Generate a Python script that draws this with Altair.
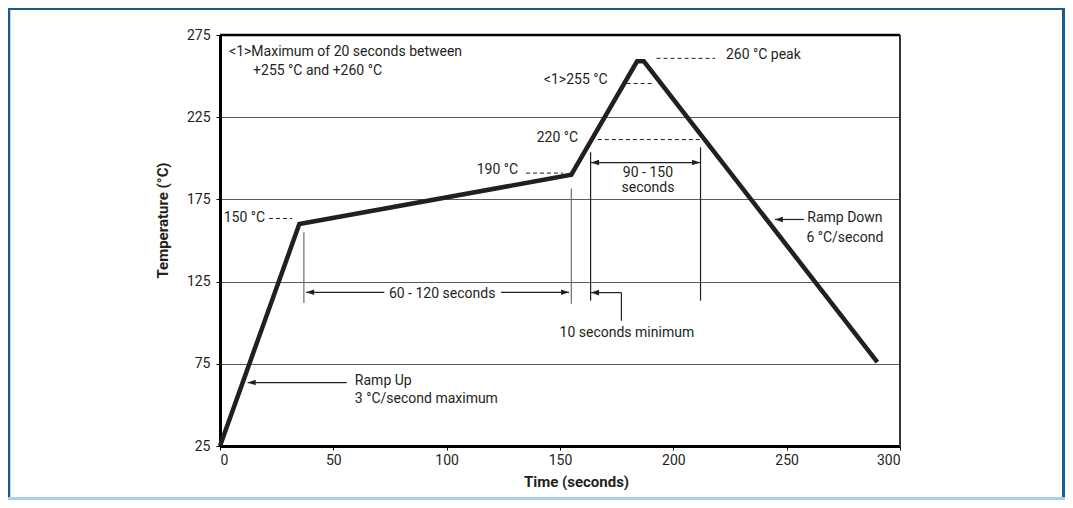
import altair as alt
import pandas as pd

# reflow profile
time_s = [0, 35, 155, 184, 187, 290]
temp_c = [25, 160, 190, 259, 259, 76]

x_ticks = [0, 50, 100, 150, 200, 250, 300]
y_ticks = [25, 75, 125, 175, 225, 275]

# dashed level markers
dash_x1 = [21.6, 135, 166.7, 179.4, 192.6]
dash_x2 = [31.8, 151.3, 211.7, 191.8, 218.4]
dash_y = [163.4, 191, 211.4, 245.5, 260.8]

# thin vertical markers
vline_x = [37, 155, 163.5, 212, 177.1]
vline_y1 = [112, 111.6, 113.4, 113.4, 101.2]
vline_y2 = [155, 181.7, 203.7, 206.7, 118.3]
vline_c = ["#6d6e71", "#6d6e71", "#231f20", "#231f20", "#231f20"]

# arrow shafts
arrow_x1 = [38, 124, 163.7, 163.7, 12.2, 244.8]
arrow_x2 = [72.5, 154, 211.8, 177.1, 55.9, 257.6]
arrow_y = [118.5, 118.5, 197.4, 118.3, 63.6, 162.8]

# arrow heads
head_x = [38, 154, 163.7, 211.8, 163.7, 12.2, 244.8]
head_y = [118.5, 118.5, 197.4, 197.4, 118.3, 63.6, 162.8]
head_ang = [0, 180, 0, 180, 0, 0, 0]

# labels
right_txt = ["150 °C", "190 °C", "220 °C", "<1>255 °C"]
right_x = [19.9, 131.5, 158, 171]
right_y = [163.4, 192.6, 212.2, 247.6]

left_txt = ["260 °C peak", "Ramp Up", "3 °C/second maximum",
            "<1>Maximum of 20 seconds between", "+255 °C and +260 °C"]
left_x = [223.2, 59.5, 59.5, 4, 14.6]
left_y = [262.8, 64.6, 53.7, 264.6, 253]

center_txt = ["90 - 150", "seconds", "60 - 120 seconds", "10 seconds minimum",
              "Ramp Down", "6 °C/second"]
center_x = [188.8, 188.8, 98, 179.5, 275.7, 275.7]
center_y = [191.3, 181.9, 117.7, 93.9, 163.4, 151.8]

FONT = "Roboto"
INK = "#231f20"

xs = alt.Scale(domain=[0, 300], nice=False)
ys = alt.Scale(domain=[25, 275], nice=False)

profile = pd.DataFrame({"t": time_s, "T": temp_c})

base_axes = alt.Chart(profile).mark_line(color=INK, strokeWidth=4.5, strokeJoin="miter").encode(
    x=alt.X("t:Q", scale=xs, title="Time (seconds)",
            axis=alt.Axis(values=x_ticks, grid=False, domainColor="black", domainWidth=3,
                          tickColor="black", tickSize=4, labelPadding=3,
                          titleX=356, titleY=35, titleBaseline="middle")),
    y=alt.Y("T:Q", scale=ys, title="Temperature (°C)",
            axis=alt.Axis(values=y_ticks, grid=True, gridColor="#58595b", gridWidth=1.2,
                          domainColor="black", domainWidth=3, tickColor="black",
                          tickSize=4, labelPadding=6,
                          titleX=-58, titleY=185, titleBaseline="middle")),
)

top_border = alt.Chart(pd.DataFrame({"a": [0], "b": [300], "y": [275]})).mark_rule(
    color="black", strokeWidth=2.5).encode(x=alt.X("a:Q", scale=xs), x2="b:Q", y=alt.Y("y:Q", scale=ys))
right_border = alt.Chart(pd.DataFrame({"x": [300], "a": [25], "b": [275]})).mark_rule(
    color="#333333", strokeWidth=2).encode(x=alt.X("x:Q", scale=xs), y=alt.Y("a:Q", scale=ys), y2="b:Q")

dashes = alt.Chart(pd.DataFrame({"a": dash_x1, "b": dash_x2, "y": dash_y})).mark_rule(
    color=INK, strokeWidth=1, strokeDash=[4, 3]).encode(
    x=alt.X("a:Q", scale=xs), x2="b:Q", y=alt.Y("y:Q", scale=ys))

vlines = alt.Chart(pd.DataFrame({"x": vline_x, "a": vline_y1, "b": vline_y2, "c": vline_c})).mark_rule(
    strokeWidth=1.2).encode(
    x=alt.X("x:Q", scale=xs), y=alt.Y("a:Q", scale=ys), y2="b:Q",
    color=alt.Color("c:N", scale=None))

shafts = alt.Chart(pd.DataFrame({"a": arrow_x1, "b": arrow_x2, "y": arrow_y})).mark_rule(
    color=INK, strokeWidth=1.2).encode(
    x=alt.X("a:Q", scale=xs), x2="b:Q", y=alt.Y("y:Q", scale=ys))

heads = alt.Chart(pd.DataFrame({"x": head_x, "y": head_y, "ang": head_ang})).mark_point(
    shape="M0,0L2,-0.7L2,0.7Z", filled=True, color=INK, opacity=1, size=64, strokeWidth=0).encode(
    x=alt.X("x:Q", scale=xs), y=alt.Y("y:Q", scale=ys), angle=alt.Angle("ang:Q", scale=None))

def txt(labels, xv, yv, align):
    return alt.Chart(pd.DataFrame({"s": labels, "x": xv, "y": yv})).mark_text(
        align=align, baseline="middle", font=FONT, fontSize=14, color=INK).encode(
        x=alt.X("x:Q", scale=xs), y=alt.Y("y:Q", scale=ys), text="s:N")

one = pd.DataFrame({"k": [0]})
DARK = "#1c5a8a"
LIGHT = "#a9cfee"
frame_left = alt.Chart(one).mark_rule(color=DARK, strokeWidth=2.5).encode(
    x=alt.value(-211), y=alt.value(-27), y2=alt.value(465))
frame_top = alt.Chart(one).mark_rule(color=DARK, strokeWidth=3).encode(
    x=alt.value(-212), x2=alt.value(845), y=alt.value(-26.5))
frame_right = alt.Chart(one).mark_rule(color=DARK, strokeWidth=3).encode(
    x=alt.value(843.5), y=alt.value(-27), y2=alt.value(465))
frame_bottom = alt.Chart(one).mark_rule(color=LIGHT, strokeWidth=3).encode(
    x=alt.value(-212), x2=alt.value(845), y=alt.value(463.5))

chart = alt.layer(
    base_axes, top_border, right_border, dashes, vlines, shafts, heads,
    txt(right_txt, right_x, right_y, "right"),
    txt(left_txt, left_x, left_y, "left"),
    txt(center_txt, center_x, center_y, "center"),
    frame_left, frame_top, frame_right, frame_bottom,
).properties(
    width=680, height=411,
    autosize=alt.AutoSizeParams(type="none"),
    padding={"left": 212, "top": 27, "right": 165, "bottom": 54},
).configure_view(stroke=None).configure_axis(
    labelFont=FONT, labelFontSize=14, labelColor=INK,
    titleFont=FONT, titleFontSize=15, titleFontWeight="bold", titleColor=INK,
)

chart.save("out.html", embed_options={"renderer": "svg", "actions": False})
